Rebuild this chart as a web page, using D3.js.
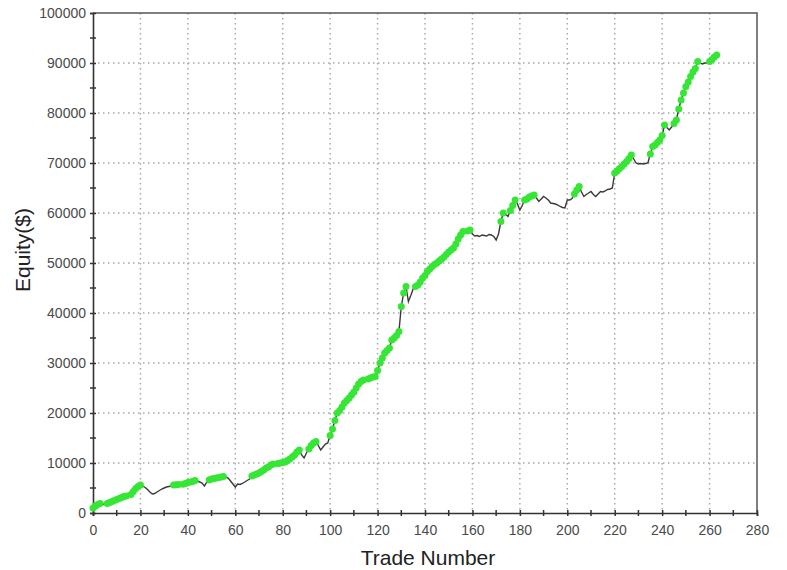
<!DOCTYPE html>
<html>
<head>
<meta charset="utf-8">
<script src="https://cdn.jsdelivr.net/npm/d3@7"></script>
<style>
  body { margin: 0; background: #ffffff; overflow: hidden; }
  text { font-family: Arial, "Liberation Sans", sans-serif; }
</style>
</head>
<body>
<div id="chart"></div>
<script>
// equity after each trade
var equity = [
  1000, 1400, 1700, 1900, 1800, 1700, 1900, 2100, 2300, 2500,
  2700, 2900, 3100, 3300, 3400, 3300, 3700, 4300, 4900, 5300,
  5600, 5400, 5100, 4700, 4200, 3800, 3900, 4200, 4500, 4800,
  5000, 5200, 5300, 5400, 5620, 5650, 5700, 5680, 5750, 5900,
  6100, 6200, 6300, 6500, 6400, 6200, 6000, 5400, 6200, 6600,
  6800, 6900, 7000, 7100, 7200, 7300, 7200, 7000, 6400, 5800,
  5200, 5800, 5700, 5900, 6200, 6500, 6800, 7400, 7600, 7800,
  8000, 8300, 8600, 9000, 9200, 9600, 9800, 9700, 9900, 10000,
  10100, 10200, 10500, 10800, 11200, 11600, 12200, 12600, 11600, 11000,
  12000, 12800, 13500, 14000, 14300, 13500, 12600, 13200, 13800, 14000,
  15500, 16800, 18500, 20000, 20500, 21200, 22000, 22500, 23000, 23600,
  24200, 25000, 25800, 26300, 26600, 26500, 26800, 27000, 27200, 27300,
  28500, 30000, 31000, 32000, 32500, 33000, 34600, 35000, 35500, 36300,
  41300, 44000, 45300, 42300, 43500, 44800, 45300, 45600, 46200, 47000,
  47500, 48300, 48800, 49300, 49700, 50000, 50400, 50800, 51200, 51700,
  52200, 52600, 53000, 53800, 54800, 55600, 56300, 56000, 56400, 56600,
  55800, 55400, 55500, 55300, 55600, 55500, 55400, 55700, 55600, 55300,
  54600, 55800, 58300, 60000, 59800, 59300, 60500, 61500, 62600, 61800,
  60600, 61500, 62600, 62800, 63200, 63400, 63600, 63000, 62300, 62800,
  63300, 63000, 62600, 62000, 61900, 61800, 61600, 61300, 61100, 61000,
  62600, 62600, 62900, 63800, 64600, 65300, 64200, 63300, 63700, 64000,
  64300, 63700, 63300, 63800, 64300, 64200, 64400, 64700, 64800, 65000,
  68000, 68400, 68900, 69300, 69800, 70300, 70900, 71600, 70800, 70000,
  69800, 69900, 69800, 69900, 70000, 71800, 73300, 73600, 74100, 74600,
  75500, 77600, 77100, 76600, 77200, 77900, 78600, 80800, 82600, 84000,
  85300, 86200, 87300, 88200, 88900, 90300, 90000, 89800, 90000, 90000,
  90300, 90700, 91200, 91600
];

var xTicks = [0, 20, 40, 60, 80, 100, 120, 140, 160, 180, 200, 220, 240, 260, 280];
var yTicks = [0, 10000, 20000, 30000, 40000, 50000, 60000, 70000, 80000, 90000, 100000];
var xMinor = [10, 30, 50, 70, 90, 110, 130, 150, 170, 190, 210, 230, 250, 270];
var yMinor = [5000, 15000, 25000, 35000, 45000, 55000, 65000, 75000, 85000, 95000];

var svgWidth = 787;
var svgHeight = 570;

var margin = {
    top : 13,
    left : 93,
    right : 30,
    bottom : 57
};

var Width = svgWidth - margin.left - margin.right;
var Height = svgHeight - margin.top - margin.bottom;

var svg = d3.select("#chart")
    .append("svg")
    .attr("width", svgWidth)
    .attr("height", svgHeight);

// soft edge for the green dots
svg.append("defs")
    .append("filter")
    .attr("id", "soft")
    .append("feGaussianBlur")
    .attr("stdDeviation", 0.6);

var chartGroup = svg.append("g")
    .attr("transform", `translate(${margin.left}, ${margin.top})`);

var data = equity.map(function(v, i) { return { trade : i, value : v }; });

// new equity highs get the green marker
var peak = -Infinity;
data.forEach(function(d) {
    d.high = d.value >= peak;
    if (d.value > peak) peak = d.value;
});

var xLinearScale = d3.scaleLinear()
    .domain([0, 280])
    .range([0, Width]);

var yLinearScale = d3.scaleLinear()
    .domain([0, 100000])
    .range([Height, 0]);

// dotted grid
chartGroup.append("g")
    .selectAll("line")
    .data(xTicks.slice(1, -1))
    .enter()
    .append("line")
    .attr("x1", d => xLinearScale(d))
    .attr("x2", d => xLinearScale(d))
    .attr("y1", 0)
    .attr("y2", Height)
    .attr("stroke", "#a8a8a8")
    .attr("stroke-width", 1.5)
    .attr("stroke-dasharray", "1.5,3.5");

chartGroup.append("g")
    .selectAll("line")
    .data(yTicks.slice(1, -1))
    .enter()
    .append("line")
    .attr("x1", 0)
    .attr("x2", Width)
    .attr("y1", d => yLinearScale(d))
    .attr("y2", d => yLinearScale(d))
    .attr("stroke", "#a8a8a8")
    .attr("stroke-width", 1.5)
    .attr("stroke-dasharray", "1.5,3.5");

// frame on top and right
chartGroup.append("path")
    .attr("d", `M0,0H${Width}V${Height}`)
    .attr("fill", "none")
    .attr("stroke", "#555")
    .attr("stroke-width", 1.5);

var xAxis = d3.axisBottom(xLinearScale)
    .tickValues(xTicks)
    .tickSize(3)
    .tickPadding(9);

var yAxis = d3.axisLeft(yLinearScale)
    .tickValues(yTicks)
    .tickSize(3)
    .tickPadding(4)
    .tickFormat(d3.format("d"));

var xg = chartGroup.append("g")
    .attr("transform", `translate(0, ${Height})`)
    .call(xAxis);

var yg = chartGroup.append("g")
    .call(yAxis);

[xg, yg].forEach(function(g) {
    g.select(".domain").attr("stroke", "#333").attr("stroke-width", 1.6);
    g.selectAll(".tick line").attr("stroke", "#333").attr("stroke-width", 1.5);
    g.selectAll(".tick text")
        .attr("fill", "#4a4a4a")
        .attr("font-size", 14)
        .attr("font-family", "Arial, 'Liberation Sans', sans-serif");
});
xg.selectAll(".tick line").attr("y1", -3).attr("y2", 3);
yg.selectAll(".tick line").attr("x1", 3).attr("x2", -3);

// minor tick marks
chartGroup.append("g")
    .selectAll("line")
    .data(xMinor)
    .enter()
    .append("line")
    .attr("x1", d => xLinearScale(d))
    .attr("x2", d => xLinearScale(d))
    .attr("y1", Height - 3)
    .attr("y2", Height + 3)
    .attr("stroke", "#333")
    .attr("stroke-width", 1.5);

chartGroup.append("g")
    .selectAll("line")
    .data(yMinor)
    .enter()
    .append("line")
    .attr("x1", -3)
    .attr("x2", 3)
    .attr("y1", d => yLinearScale(d))
    .attr("y2", d => yLinearScale(d))
    .attr("stroke", "#333")
    .attr("stroke-width", 1.5);

var line = d3.line()
    .x(d => xLinearScale(d.trade))
    .y(d => yLinearScale(d.value));

chartGroup.append("path")
    .datum(data)
    .attr("d", line)
    .attr("fill", "none")
    .attr("stroke", "#3a3a3a")
    .attr("stroke-width", 1.4);

chartGroup.append("g")
    .attr("filter", "url(#soft)")
    .selectAll("circle")
    .data(data.filter(d => d.high))
    .enter()
    .append("circle")
    .attr("cx", d => xLinearScale(d.trade))
    .attr("cy", d => yLinearScale(d.value))
    .attr("r", 3.5)
    .attr("fill", "#36e636");

chartGroup.append("text")
    .attr("transform", "rotate(-90)")
    .attr("x", 0 - (Height / 2) + 13)
    .attr("y", -63)
    .attr("text-anchor", "middle")
    .attr("font-size", 21)
    .attr("fill", "#222")
    .text("Equity($)");

chartGroup.append("text")
    .attr("x", Width / 2 + 3)
    .attr("y", Height + 52)
    .attr("text-anchor", "middle")
    .attr("font-size", 21)
    .attr("fill", "#222")
    .text("Trade Number");
</script>
</body>
</html>
